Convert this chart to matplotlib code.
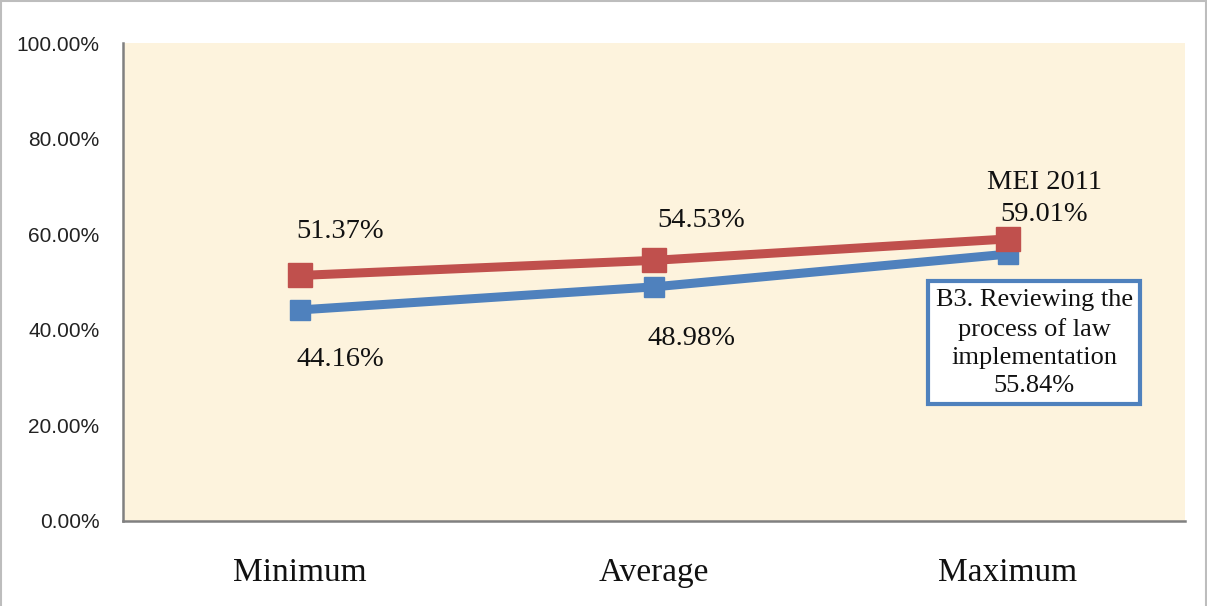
import matplotlib
matplotlib.use("Agg")
import matplotlib.pyplot as plt
from matplotlib.lines import Line2D

# MEI 2011 vs indicator B3, minimum / average / maximum scores (%)
categories = ["Minimum", "Average", "Maximum"]
mei_2011 = [51.37, 54.53, 59.01]
b3_review = [44.16, 48.98, 55.84]
yticks = [0, 20, 40, 60, 80, 100]

RED = "#C0504D"
BLUE = "#4F81BD"
SERIF = "Liberation Serif"


def main():
    fig = plt.figure(figsize=(12.07, 6.06), dpi=100)
    ax = fig.add_axes([0.1019, 0.1403, 0.8799, 0.7887])
    ax.set_facecolor("#FDF3DD")

    x = list(range(len(categories)))
    ax.plot(x, b3_review, color=BLUE, lw=6.5, marker="s", ms=15,
            solid_capstyle="butt", zorder=3)
    ax.plot(x, mei_2011, color=RED, lw=6.5, marker="s", ms=17,
            solid_capstyle="butt", zorder=4)

    ax.set_xlim(-0.5, 2.5)
    ax.set_ylim(0, 100)
    ax.set_yticks(yticks)
    ax.set_yticklabels(["%.2f%%" % v for v in yticks],
                       fontfamily="Liberation Sans", fontsize=15,
                       color="#222222")
    ax.set_xticks(x)
    ax.set_xticklabels(categories, fontfamily=SERIF, fontsize=24,
                       color="#111111")
    ax.tick_params(axis="y", length=0, pad=17)
    ax.tick_params(axis="x", length=0, pad=26)

    for s in ["top", "right"]:
        ax.spines[s].set_visible(False)
    for s in ["left", "bottom"]:
        ax.spines[s].set_color("#808080")
        ax.spines[s].set_linewidth(1.8)

    # value labels
    red_off = [(29, 32), (34, 29), (26, 29)]
    blue_off = [(29, -36), (27, -37)]
    for i, v in enumerate(mei_2011):
        txt = "%.2f%%" % v
        if i == 2:
            txt = "MEI 2011\n" + txt
        ax.annotate(txt, (x[i], v), xytext=red_off[i],
                    textcoords="offset points", ha="center", va="center",
                    fontfamily=SERIF, fontsize=20.5, color="#111111",
                    linespacing=1.35, zorder=6)
    for i, v in enumerate(b3_review[:2]):
        ax.annotate("%.2f%%" % v, (x[i], v), xytext=blue_off[i],
                    textcoords="offset points", ha="center", va="center",
                    fontfamily=SERIF, fontsize=20.5, color="#111111", zorder=6)

    ax.annotate("B3. Reviewing the\nprocess of law\nimplementation\n%.2f%%"
                % b3_review[2], (x[2], b3_review[2]), xytext=(19, -64),
                textcoords="offset points", ha="center", va="center",
                fontfamily=SERIF, fontsize=19, color="#111111",
                linespacing=1.37, zorder=6,
                bbox=dict(boxstyle="square,pad=0.28", fc="white",
                          ec=BLUE, lw=3))

    # chart frame
    for xs, ys in [([0.001, 0.001], [0, 0.998]),
                   ([0.001, 0.9995], [0.998, 0.998]),
                   ([0.9995, 0.9995], [0, 0.998])]:
        fig.add_artist(Line2D(xs, ys, color="#BDBDBD", lw=1.5,
                              transform=fig.transFigure))

    fig.savefig("out.png", dpi=100)


if __name__ == "__main__":
    main()
